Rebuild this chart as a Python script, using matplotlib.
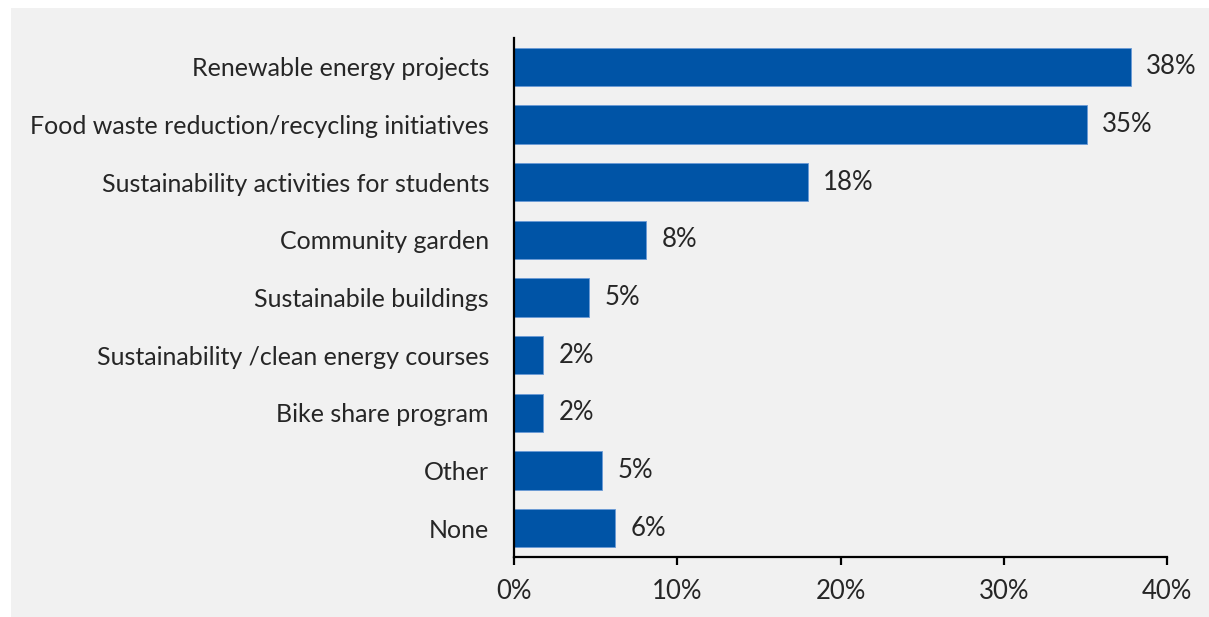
import matplotlib
matplotlib.use("Agg")
import matplotlib.pyplot as plt
from matplotlib.patches import Rectangle
from matplotlib.ticker import FuncFormatter

categories = [
    "Renewable energy projects",
    "Food waste reduction/recycling initiatives",
    "Sustainability activities for students",
    "Community garden",
    "Sustainabile buildings",
    "Sustainability /clean energy courses",
    "Bike share program",
    "Other",
    "None",
]
values = [37.8, 35.1, 18.0, 8.1, 4.6, 1.8, 1.8, 5.4, 6.2]
x_ticks = [0, 10, 20, 30, 40]

bar_color = "#0054A6"
text_color = "#262626"
panel_color = "#F1F1F1"

plt.rcParams["font.family"] = ["Lato", "DejaVu Sans"]

fig = plt.figure(figsize=(12.09, 6.17), dpi=100)
fig.patch.set_facecolor("white")
fig.patches.append(Rectangle((11 / 1209, 0), 1 - 11 / 1209, 1 - 8 / 617,
                             transform=fig.transFigure, facecolor=panel_color,
                             edgecolor="none", zorder=-10))

ax = fig.add_axes([514 / 1209, 1 - 557 / 617, (1167 - 514) / 1209, (557 - 38) / 617])
ax.set_facecolor("none")

pos = list(range(len(categories)))
bars = ax.barh(pos, values, height=0.66, color=bar_color,
               edgecolor="#6A9AD6", linewidth=0.6, zorder=2)

for b, v in zip(bars, values):
    ax.annotate(f"{round(v):d}%", xy=(b.get_width(), b.get_y() + b.get_height() / 2),
                xytext=(11, 0), textcoords="offset points", va="center", ha="left",
                fontsize=18.5, color=text_color)

ax.set_ylim(len(categories) - 0.5, -0.5)
ax.set_xlim(0, 40)
ax.set_xticks(x_ticks)
ax.xaxis.set_major_formatter(FuncFormatter(lambda x, _: f"{x:.0f}%"))
ax.set_yticks(pos)
ax.set_yticklabels(categories)

for s in ("top", "right"):
    ax.spines[s].set_visible(False)
for s in ("left", "bottom"):
    ax.spines[s].set_color("black")
    ax.spines[s].set_linewidth(1.6)

ax.tick_params(axis="y", length=0, pad=18, labelsize=18, labelcolor=text_color)
ax.tick_params(axis="x", direction="out", length=6, width=1.6, color="black",
               pad=10, labelsize=18.5, labelcolor=text_color)

fig.savefig("out.png", dpi=100, facecolor=fig.get_facecolor())
